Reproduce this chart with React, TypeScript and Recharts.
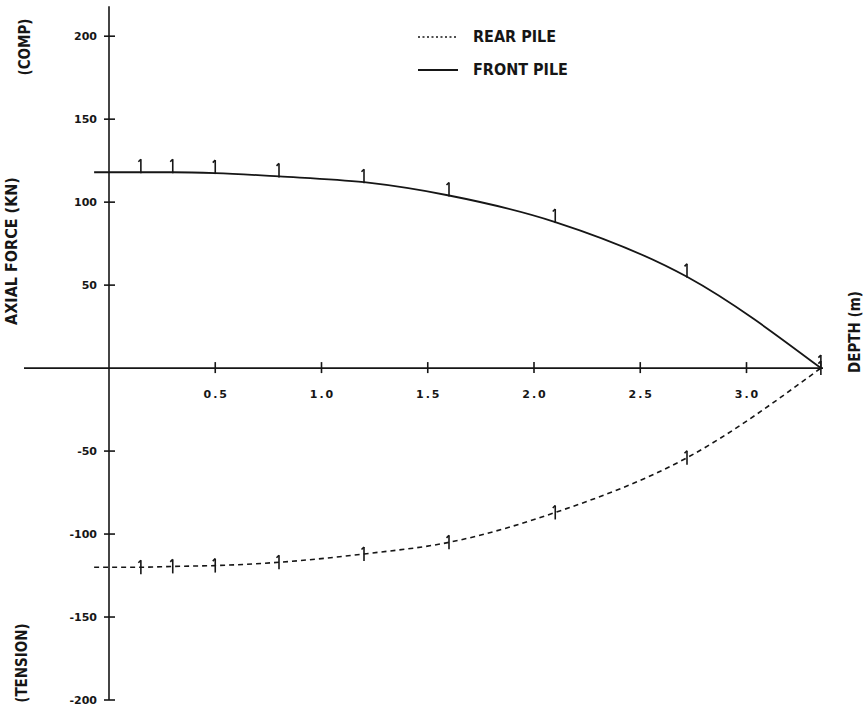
import { LineChart, Line, XAxis, YAxis, ReferenceLine, ReferenceDot, Legend } from 'recharts';

// depth below pile head (m) and axial force (kN)
const depth = [-0.07, 0.15, 0.3, 0.5, 0.8, 1.2, 1.6, 2.1, 2.72, 3.35];
const frontPile = [118, 118, 118, 117.5, 115.5, 112, 104, 88, 55, 0];
const rearPile = [-120, -120, -119.5, -119, -117, -112, -105, -87, -54, 0];

const xTicks = ['0.5', '1.0', '1.5', '2.0', '2.5', '3.0'];
const yTicks = [-200, -150, -100, -50, 50, 100, 150, 200];

const seriesNames = { rear: 'REAR PILE', front: 'FRONT PILE' };
const legendOrder = ['rear', 'front'];

const data = depth.map((d, i) => ({ depth: d, front: frontPile[i], rear: rearPile[i] }));

const INK = '#161616';
const labelFont = "'Liberation Sans Narrow', 'DejaVu Sans Condensed', 'DejaVu Sans', sans-serif";
const tickFont = "'DejaVu Sans', sans-serif";

const FrontMark = (props: any) => {
  const { cx, cy, index } = props;
  if (index === 0 || cx == null) return <g key={`f${index}`} />;
  return (
    <g key={`f${index}`} stroke={INK} strokeWidth={1.6}>
      <line x1={cx} y1={cy - 13} x2={cx} y2={cy + 1} />
      <line x1={cx - 2.5} y1={cy - 10.5} x2={cx} y2={cy - 13} />
    </g>
  );
};

const RearMark = (props: any) => {
  const { cx, cy, index } = props;
  if (index === 0 || cx == null) return <g key={`r${index}`} />;
  return (
    <g key={`r${index}`} stroke={INK} strokeWidth={1.6}>
      <line x1={cx} y1={cy - 7} x2={cx} y2={cy + 7} />
      <line x1={cx - 2.5} y1={cy - 4.5} x2={cx} y2={cy - 7} />
    </g>
  );
};

function LegendBox({ payload }: any) {
  const items = [...(payload || [])].sort(
    (a: any, b: any) => legendOrder.indexOf(a.dataKey) - legendOrder.indexOf(b.dataKey)
  );
  return (
    <svg width={200} height={60}>
      {items.map((p: any, i: number) => (
        <g key={p.value} transform={`translate(0, ${i * 33})`}>
          <line
            x1={3}
            y1={12}
            x2={43}
            y2={12}
            stroke={INK}
            strokeWidth={p.dataKey === 'rear' ? 1.3 : 1.8}
            strokeDasharray={p.dataKey === 'rear' ? '2 2.5' : undefined}
          />
          <text x={58} y={17} fontFamily={labelFont} fontWeight="bold" fontSize={16} fill={INK}>
            {p.value}
          </text>
        </g>
      ))}
    </svg>
  );
}

export default function App() {
  return (
    <div style={{ position: 'absolute', left: 0, top: 0, width: 863, height: 710, background: '#fff' }}>
      <LineChart
        width={863}
        height={710}
        data={data}
        margin={{ top: 3, right: 31.5, left: 24, bottom: 10 }}
      >
        <XAxis type="number" dataKey="depth" domain={[-0.4, 3.4]} hide />
        <YAxis type="number" domain={[-200, 220]} hide />

        {/* axes drawn through the origin */}
        <ReferenceLine
          segment={[{ x: 0, y: -200 }, { x: 0, y: 218 }]}
          stroke={INK}
          strokeWidth={1.6}
          ifOverflow="visible"
        />
        <ReferenceLine
          segment={[{ x: -0.4, y: 0 }, { x: 3.36, y: 0 }]}
          stroke={INK}
          strokeWidth={1.6}
          ifOverflow="visible"
        />

        {yTicks.map((v) => (
          <ReferenceDot
            key={`y${v}`}
            x={0}
            y={v}
            r={0}
            ifOverflow="visible"
            shape={(p: any) => (
              <g>
                <line x1={p.cx - 5} y1={p.cy} x2={p.cx + 6} y2={p.cy} stroke={INK} strokeWidth={1.6} />
                <text
                  x={p.cx - 12}
                  y={p.cy + 4}
                  textAnchor="end"
                  fontFamily={tickFont}
                  fontWeight="bold"
                  fontSize={11}
                  fill={INK}
                >
                  {v}
                </text>
              </g>
            )}
          />
        ))}

        {xTicks.map((t) => (
          <ReferenceDot
            key={`x${t}`}
            x={Number(t)}
            y={0}
            r={0}
            ifOverflow="visible"
            shape={(p: any) => (
              <g>
                <line x1={p.cx} y1={p.cy - 6} x2={p.cx} y2={p.cy + 5} stroke={INK} strokeWidth={1.6} />
                <text
                  x={p.cx + 1}
                  y={p.cy + 30}
                  textAnchor="middle"
                  fontFamily={tickFont}
                  fontWeight="bold"
                  fontSize={11}
                  letterSpacing={2}
                  fill={INK}
                >
                  {t}
                </text>
              </g>
            )}
          />
        ))}

        <Line
          dataKey="rear"
          name={seriesNames.rear}
          type="monotone"
          stroke={INK}
          strokeWidth={1.6}
          strokeDasharray="5 4"
          dot={RearMark}
          activeDot={false}
          isAnimationActive={false}
        />
        <Line
          dataKey="front"
          name={seriesNames.front}
          type="monotone"
          stroke={INK}
          strokeWidth={1.8}
          dot={FrontMark}
          activeDot={false}
          isAnimationActive={false}
        />

        <Legend
          layout="vertical"
          align="center"
          verticalAlign="middle"
          content={<LegendBox />}
          wrapperStyle={{ position: 'absolute', left: 415, top: 25, width: 200, height: 60 }}
        />
      </LineChart>

      <svg
        width={863}
        height={710}
        style={{ position: 'absolute', left: 0, top: 0, pointerEvents: 'none' }}
      >
        <g fontFamily={labelFont} fontWeight="bold" fill={INK}>
          <text transform="translate(30, 47) rotate(-90)" textAnchor="middle" fontSize={15}>
            (COMP)
          </text>
          <text transform="translate(17, 251) rotate(-90)" textAnchor="middle" fontSize={16}>
            AXIAL FORCE (KN)
          </text>
          <text transform="translate(27, 663) rotate(-90)" textAnchor="middle" fontSize={15}>
            (TENSION)
          </text>
          <text transform="translate(860, 332) rotate(-90)" textAnchor="middle" fontSize={15}>
            DEPTH (m)
          </text>
        </g>
      </svg>
    </div>
  );
}
